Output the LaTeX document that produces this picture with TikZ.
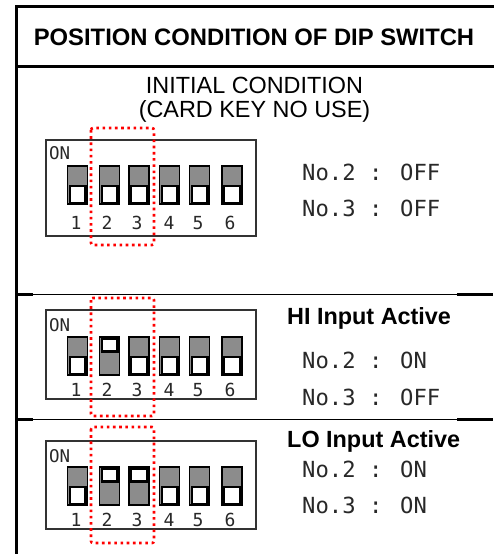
\documentclass[tikz,border=0pt]{standalone}
\usepackage{fontspec}
\setmainfont{Liberation Sans}
\newfontfamily\pixfont{DejaVu Sans Mono}
\definecolor{swgray}{RGB}{140,140,140}
\definecolor{pixgray}{RGB}{40,40,40}
\tikzset{
  frameline/.style={line width=3, line cap=rect},
  thinline/.style={line width=1},
  endseg/.style={line width=2.5},
  dipbox/.style={line width=1.4, draw=black!80},
  redbox/.style={draw=red, line width=2.6, dash pattern=on 2.6pt off 3.6pt, rounded corners=2},
  swframe/.style={fill=swgray, draw=black, line width=1.2},
  swwhite/.style={fill=white, draw=black, line width=2.4},
  bigtitle/.style={font=\bfseries\fontsize{23.8}{28}\selectfont, anchor=base, inner sep=0},
  subtitle/.style={font=\fontsize{23.4}{28}\selectfont, anchor=base, inner sep=0},
  boldlabel/.style={font=\bfseries\fontsize{23.4}{28}\selectfont, anchor=base west, inner sep=0},
  statetext/.style={font=\pixfont\fontsize{22.2}{26}\selectfont, text=pixgray, anchor=base west, inner sep=0},
  smallpix/.style={font=\pixfont\fontsize{18}{20}\selectfont, text=pixgray, anchor=base, inner sep=0},
  onlabel/.style={font=\pixfont\fontsize{17.5}{20}\selectfont, text=pixgray, anchor=base west, inner sep=0},
}
% #1 left x, #2 top y, #3 state (0 = OFF, 1 = ON)
\newcommand{\dipsw}[3]{%
  \draw[swframe] (#1,#2) rectangle ++(20,38);
  \ifnum#3=1
    \draw[swwhite] (#1+2.2,#2+1.5) rectangle (#1+17.8,#2+14.5);
  \else
    \draw[swwhite] (#1+2.2,#2+20) rectangle (#1+17.8,#2+36.8);
  \fi}
\begin{document}
\begin{tikzpicture}[x=1pt,y=-1pt]
\useasboundingbox (0,0) rectangle (493,554);
% frame
\draw[frameline] (16.5,554) -- (16.5,6.5) -- (493,6.5);
\draw[frameline] (16.5,66.5) -- (493,66.5);
\draw[thinline] (16.5,294.5) -- (493,294.5);
\draw[endseg] (16.5,294.5) -- (33,294.5);
\draw[endseg] (457,294.5) -- (493,294.5);
\draw[thinline] (16.5,419.5) -- (493,419.5);
\draw[endseg] (16.5,419.5) -- (33,419.5);
\draw[endseg] (457,419.5) -- (493,419.5);

% headings
\node[bigtitle] (title) at (254,45) {POSITION CONDITION OF DIP SWITCH};
\node[subtitle] (init) at (254.5,93) {INITIAL CONDITION};
\node[subtitle] (card) at (254.5,117) {(CARD KEY NO USE)};
\node[boldlabel] (hi) at (287,324) {HI Input Active};
\node[boldlabel] (lo) at (287,447) {LO Input Active};

% ---------- section 1 ----------
\draw[dipbox] (46,140) rectangle (256,236);
\node[onlabel] (on1) at (49,159.5) {ON};
\foreach \x/\s in {67.5/0,99.5/0,129/0,159.5/0,189.5/0,222/0} {\dipsw{\x}{166}{\s}}
\foreach \i/\x in {1/76,2/107,3/137,4/169,5/198,6/230}
  \node[smallpix] (a\i) at (\x,229.5) {\i};
\draw[redbox] (91,128) rectangle (154,245);
\node[statetext] (a2s) at (302,180) {No.2 : OFF};
\node[statetext] (a3s) at (302,216) {No.3 : OFF};

% ---------- section 2 ----------
\draw[dipbox] (46,310) rectangle (256,399);
\node[onlabel] (on2) at (49,331.5) {ON};
\foreach \x/\s in {67.5/0,99.5/1,129/0,159.5/0,189.5/0,222/0} {\dipsw{\x}{337}{\s}}
\foreach \i/\x in {1/76,2/107,3/137,4/169,5/198,6/230}
  \node[smallpix] (b\i) at (\x,396) {\i};
\draw[redbox] (91,298) rectangle (154,416);
\node[statetext] (b2s) at (302,368) {No.2 : ON};
\node[statetext] (b3s) at (302,405) {No.3 : OFF};

% ---------- section 3 ----------
\draw[dipbox] (46,441) rectangle (256,529);
\node[onlabel] (on3) at (49,462.5) {ON};
\foreach \x/\s in {67.5/0,99.5/1,129/1,159.5/0,189.5/0,222/0} {\dipsw{\x}{467}{\s}}
\foreach \i/\x in {1/76,2/107,3/137,4/169,5/198,6/230}
  \node[smallpix] (c\i) at (\x,526.5) {\i};
\draw[redbox] (91,427) rectangle (154,543);
\node[statetext] (c2s) at (302,477) {No.2 : ON};
\node[statetext] (c3s) at (302,513) {No.3 : ON};
\end{tikzpicture}
\end{document}
